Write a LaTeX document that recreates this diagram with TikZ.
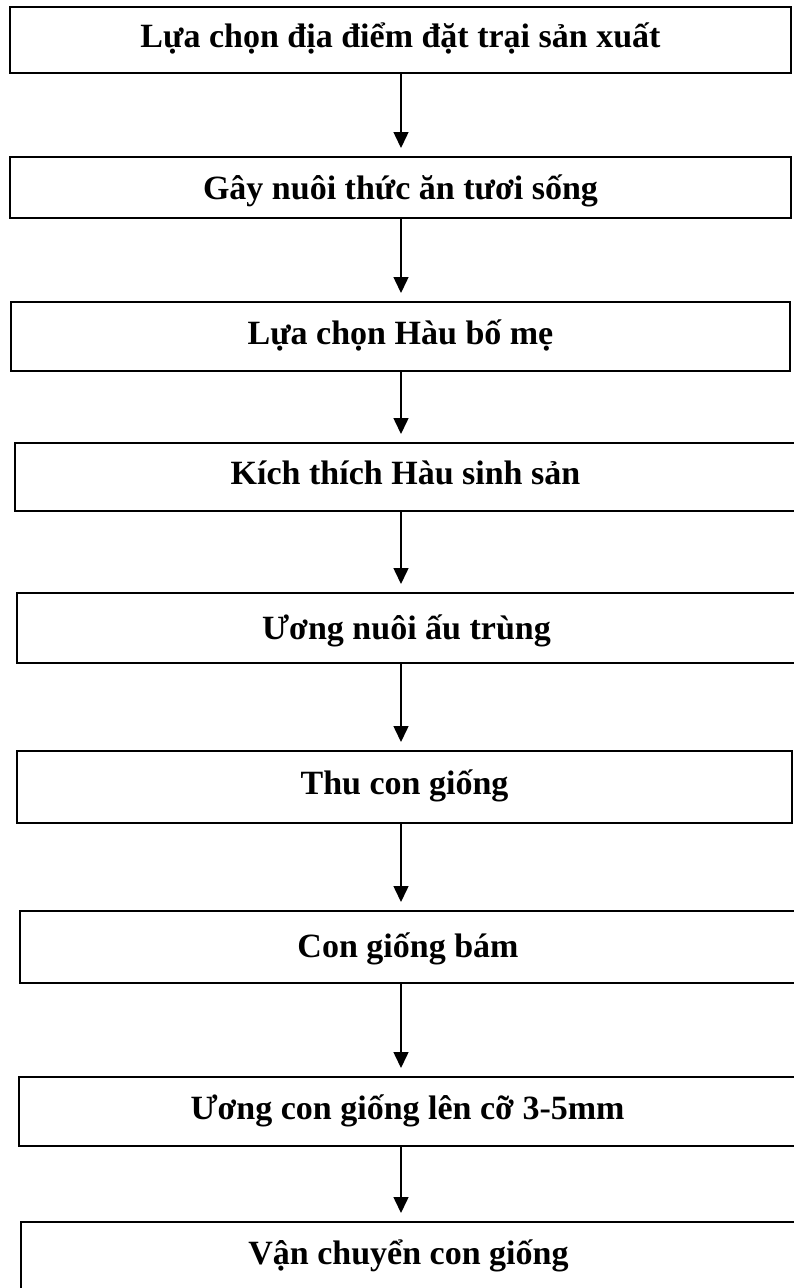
\documentclass[tikz,border=0pt]{standalone}
\usepackage{fontspec}
\setmainfont{Liberation Serif}
\usetikzlibrary{arrows.meta}

\begin{document}
\begin{tikzpicture}[x=1pt,y=-1pt,
  stepbox/.style={draw, line width=2pt, inner sep=0pt, anchor=center,
    font=\bfseries\fontsize{34}{40}\selectfont,
    text height=22.5pt, text depth=7.5pt},
  flow/.style={line width=1.5pt, -{Triangle[width=15pt,length=16pt]}}]
\useasboundingbox (0,0) rectangle (793,1288);

% process steps, top to bottom
\node[stepbox, minimum width=781pt, minimum height=66pt] (b1) at (400.5,40)   {Lựa chọn địa điểm đặt trại sản xuất};
\node[stepbox, minimum width=781pt, minimum height=61pt] (b2) at (400.5,187.5) {\raisebox{-4pt}{Gây nuôi thức ăn tươi sống}};
\node[stepbox, minimum width=779pt, minimum height=69pt] (b3) at (400.5,336.5) {Lựa chọn Hàu bố mẹ};
\node[stepbox, minimum width=781pt, minimum height=68pt] (b4) at (405.5,477)   {Kích thích Hàu sinh sản};
\node[stepbox, minimum width=779pt, minimum height=70pt] (b5) at (406.5,628)   {\raisebox{-4pt}{Ương nuôi ấu trùng}};
\node[stepbox, minimum width=775pt, minimum height=72pt] (b6) at (404.5,787)   {Thu con giống};
\node[stepbox, minimum width=776pt, minimum height=72pt] (b7) at (408,947)     {\raisebox{-3pt}{Con giống bám}};
\node[stepbox, minimum width=777pt, minimum height=69pt] (b8) at (407.5,1111.5) {Ương con giống lên cỡ 3-5mm};
\node[stepbox, minimum width=775pt, minimum height=70pt] (b9) at (408.5,1257)  {Vận chuyển con giống};

% vertical axis of the connectors
\coordinate (ax) at (401,0);

\foreach \a/\b in {b1/b2,b2/b3,b3/b4,b4/b5,b5/b6,b6/b7,b7/b8,b8/b9}
  \draw[flow] (\a.south -| ax) -- ([yshift=8pt]\b.north -| ax);
\end{tikzpicture}
\end{document}
